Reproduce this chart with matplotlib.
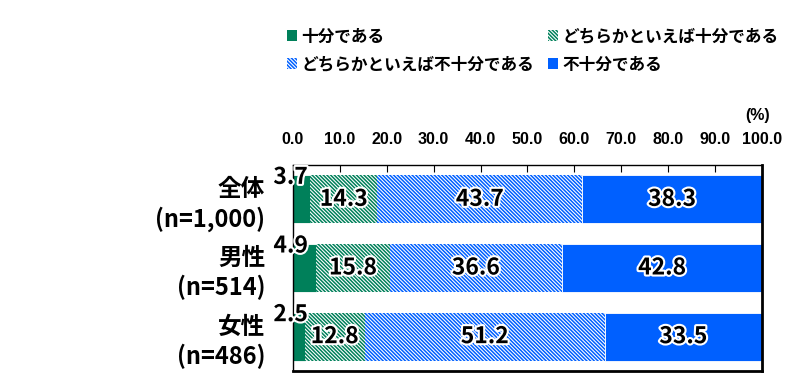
import matplotlib
matplotlib.use("Agg")
import matplotlib.pyplot as plt
import matplotlib.patheffects as pe
from matplotlib.patches import Patch
import numpy as np

plt.rcParams['font.family'] = ['Noto Sans CJK JP', 'DejaVu Sans']
plt.rcParams['hatch.linewidth'] = 1.1

categories = ['全体\n(n=1,000)', '男性\n(n=514)', '女性\n(n=486)']
series_names = ['十分である', 'どちらかといえば十分である', 'どちらかといえば不十分である', '不十分である']
values = [
    [3.7, 4.9, 2.5],
    [14.3, 15.8, 12.8],
    [43.7, 36.6, 51.2],
    [38.3, 42.8, 33.5],
]
tick_values = [0, 10, 20, 30, 40, 50, 60, 70, 80, 90, 100]
tick_labels = ['0.0', '10.0', '20.0', '30.0', '40.0', '50.0', '60.0', '70.0', '80.0', '90.0', '100.0']

green = '#00805A'
blue = '#0060FF'
HATCH = '\\' * 9
styles = [
    dict(color=green, hatch=None),
    dict(color='white', edgecolor=green, hatch=HATCH),
    dict(color='white', edgecolor=blue, hatch=HATCH),
    dict(color=blue, hatch=None),
]

fig = plt.figure(figsize=(7.99, 3.76), dpi=100)
ax = fig.add_axes([0.3667, 0.0133, 0.5870, 0.5479])

y = np.arange(len(categories))
left = np.zeros(len(categories))
stroke = [pe.withStroke(linewidth=3, foreground='white')]
for s, (vals, st) in enumerate(zip(values, styles)):
    if st['hatch']:
        ax.barh(y, vals, left=left, height=0.7, color='white',
                edgecolor=st['edgecolor'], hatch=st['hatch'], linewidth=0)
    else:
        ax.barh(y, vals, left=left, height=0.7, color=st['color'],
                edgecolor='white', linewidth=0.6)
    for i, v in enumerate(vals):
        if s == 0:
            ax.text(left[i] - 0.5, y[i] - 0.32, f'{v:.1f}', ha='center', va='center',
                    fontsize=16.5, fontweight='bold', color='black', path_effects=stroke)
        else:
            ax.text(left[i] + v / 2, y[i], f'{v:.1f}', ha='center', va='center',
                    fontsize=16.5, fontweight='bold', color='black', path_effects=stroke)
    left = left + np.array(vals)

ax.set_xlim(0, 100)
ax.set_ylim(len(categories) - 0.5, -0.5)
ax.set_yticks(y)
ax.set_yticklabels(categories, fontsize=17, fontweight='bold', linespacing=1.25)
ax.tick_params(axis='y', length=0, pad=20)
ax.xaxis.tick_top()
ax.set_xticks(tick_values)
ax.set_xticklabels(tick_labels, fontsize=11.5, fontweight='bold', family='Liberation Sans')
ax.tick_params(axis='x', direction='in', length=5, pad=13, top=True, bottom=False)
for sp in ['top', 'left']:
    ax.spines[sp].set_linewidth(1)
for sp in ['right', 'bottom']:
    ax.spines[sp].set_linewidth(2)

fig.text(0.9637, 0.694, '(%)', ha='right', va='center', fontsize=11.5,
         fontweight='bold', family='Liberation Sans')

handles = [
    Patch(facecolor=green, edgecolor=green, linewidth=0),
    Patch(facecolor='white', edgecolor=blue, hatch=HATCH, linewidth=0),
    Patch(facecolor='white', edgecolor=green, hatch=HATCH, linewidth=0),
    Patch(facecolor=blue, edgecolor=blue, linewidth=0),
]
labels = [series_names[0], series_names[2], series_names[1], series_names[3]]
fig.legend(handles, labels, ncol=2, loc='upper left', bbox_to_anchor=(0.344, 0.958),
           frameon=False, prop={'weight': 'bold', 'size': 12},
           handlelength=0.6, handleheight=0.6, handletextpad=0.3,
           columnspacing=0.8, labelspacing=0.6, borderpad=0.2)

fig.savefig('out.png', dpi=100)
